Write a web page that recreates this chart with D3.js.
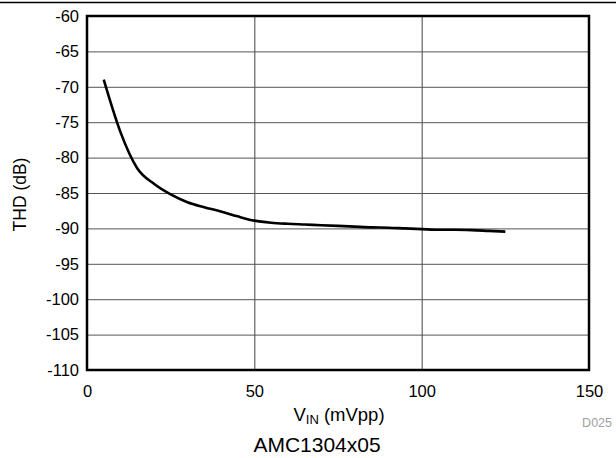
<!DOCTYPE html>
<html>
<head>
<meta charset="utf-8">
<script src="https://cdn.jsdelivr.net/npm/d3@7"></script>
<style>
body { margin: 0; background: #fff; }
text { font-family: "Liberation Sans", Arial, sans-serif; }
</style>
</head>
<body>
<script>
// values
var vin = [5, 10, 15, 20, 25, 30, 35, 40, 45, 50, 55, 60, 65, 70, 75, 80, 85, 90, 95, 100, 105, 110, 115, 120, 125];
var thd = [-69, -76.4, -81.5, -83.7, -85.2, -86.3, -87.0, -87.6, -88.3, -88.9, -89.2, -89.35, -89.45, -89.55, -89.65, -89.75, -89.85, -89.9, -90.0, -90.1, -90.2, -90.2, -90.25, -90.35, -90.45];
var xTicks = [0, 50, 100, 150];
var yTicks = [-60, -65, -70, -75, -80, -85, -90, -95, -100, -105, -110];

var W = 616, H = 458;
var pL = 87, pR = 589, pT = 16, pB = 370;

var svg = d3.select("body").append("svg")
	.attr("width", W)
	.attr("height", H);

var x = d3.scaleLinear().domain([0, 150]).range([pL, pR]);
var y = d3.scaleLinear().domain([-110, -60]).range([pB, pT]);

// top rule
svg.append("line")
	.attr("x1", 0).attr("x2", W)
	.attr("y1", 2.5).attr("y2", 2.5)
	.attr("stroke", "#000").attr("stroke-width", 1.5);

// grid
svg.append("g")
	.attr("transform", "translate(0," + pB + ")")
	.call(d3.axisBottom(x).tickValues(xTicks).tickSize(-(pB - pT)).tickFormat(""))
	.call(g => g.select(".domain").remove())
	.selectAll("line").attr("stroke", "#444").attr("stroke-width", 1);

svg.append("g")
	.attr("transform", "translate(" + pL + ",0)")
	.call(d3.axisLeft(y).tickValues(yTicks).tickSize(-(pR - pL)).tickFormat(""))
	.call(g => g.select(".domain").remove())
	.selectAll("line").attr("stroke", "#555").attr("stroke-width", 1);

// tick labels (plain hyphen like the original)
svg.append("g")
	.attr("transform", "translate(0," + pB + ")")
	.call(d3.axisBottom(x).tickValues(xTicks).tickSize(0).tickPadding(15).tickFormat(String))
	.call(g => g.select(".domain").remove())
	.selectAll("text").attr("font-size", 16.5).attr("fill", "#000")
	.attr("font-family", "Liberation Sans, Arial, sans-serif");

svg.append("g")
	.attr("transform", "translate(" + pL + ",0)")
	.call(d3.axisLeft(y).tickValues(yTicks).tickSize(0).tickPadding(8).tickFormat(String))
	.call(g => g.select(".domain").remove())
	.selectAll("text").attr("font-size", 16.5).attr("fill", "#000")
	.attr("font-family", "Liberation Sans, Arial, sans-serif");

// curve
var line = d3.line()
	.x(function(d, i) { return x(vin[i]); })
	.y(function(d) { return y(d); })
	.curve(d3.curveMonotoneX);

svg.append("path")
	.datum(thd)
	.attr("d", line)
	.attr("fill", "none")
	.attr("stroke", "#000")
	.attr("stroke-width", 2.6);

// frame
svg.append("rect")
	.attr("x", pL).attr("y", pT)
	.attr("width", pR - pL).attr("height", pB - pT)
	.attr("fill", "none").attr("stroke", "#000").attr("stroke-width", 2.5);

// axis titles
var xt = svg.append("text")
	.attr("x", 339).attr("y", 421)
	.attr("text-anchor", "middle")
	.attr("font-size", 18.5);
xt.append("tspan").text("V");
xt.append("tspan").text("IN").attr("font-size", 13).attr("dy", 3);
xt.append("tspan").text(" (mVpp)").attr("dy", -3);

svg.append("text")
	.attr("transform", "translate(26," + 194.5 + ") rotate(-90)")
	.attr("text-anchor", "middle")
	.attr("font-size", 17.5)
	.text("THD (dB)");

svg.append("text")
	.attr("x", 612).attr("y", 427)
	.attr("text-anchor", "end")
	.attr("font-size", 12.5)
	.attr("fill", "#a0a0a0")
	.text("D025");

svg.append("text")
	.attr("x", 317).attr("y", 452)
	.attr("text-anchor", "middle")
	.attr("font-size", 21)
	.text("AMC1304x05");
</script>
</body>
</html>
